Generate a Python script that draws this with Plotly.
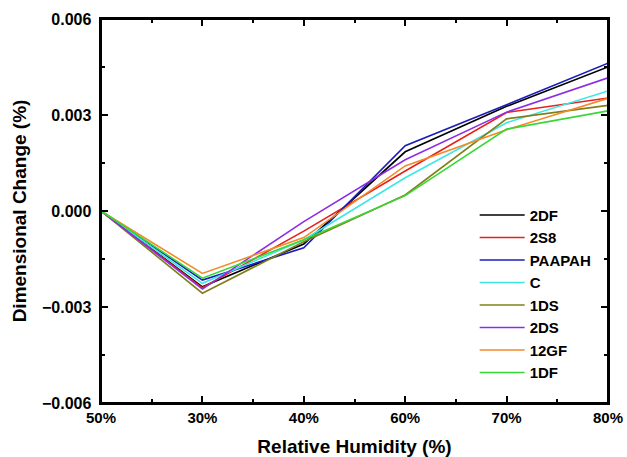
import plotly.graph_objs as go

#####################################################################
# DATA
#####################################################################
rh_labels = ['50%', '30%', '40%', '60%', '70%', '80%']

series_names = ['2DF', '2S8', 'PAAPAH', 'C', '1DS', '2DS', '12GF', '1DF']

val_2df = [0.0, -0.00237, -0.00103, 0.00185, 0.00327, 0.00450]
val_2s8 = [0.0, -0.00240, -0.00063, 0.00125, 0.00308, 0.00353]
val_paapah = [0.0, -0.00216, -0.00115, 0.00204, 0.00332, 0.00462]
val_c = [0.0, -0.00226, -0.00090, 0.00104, 0.00276, 0.00375]
val_1ds = [0.0, -0.00257, -0.00096, 0.00050, 0.00288, 0.00330]
val_2ds = [0.0, -0.00244, -0.00033, 0.00160, 0.00309, 0.00416]
val_12gf = [0.0, -0.00195, -0.00083, 0.00141, 0.00254, 0.00352]
val_1df = [0.0, -0.00210, -0.00090, 0.00048, 0.00256, 0.00313]

series_values = [val_2df, val_2s8, val_paapah, val_c, val_1ds, val_2ds, val_12gf, val_1df]

colors = ['#000000', '#e8201c', '#1c1cb8', '#3ee6e6',
          '#80801a', '#8c2ce6', '#f28a2a', '#36d836']

#####################################################################
# GRAPH
#####################################################################
FONT = 'Liberation Sans, Arial, sans-serif'
x_pos = list(range(len(rh_labels)))
y_range = [-0.006, 0.006]

data = []
for name, vals, col in zip(series_names, series_values, colors):
    data.append(go.Scatter(
        x=x_pos,
        y=vals,
        name=name,
        mode='lines',
        line=dict(color=col, width=1.6)))

axis_common = dict(
    showline=True,
    linecolor='black',
    linewidth=2,
    mirror='allticks',
    ticks='inside',
    ticklen=7,
    tickwidth=1.5,
    tickcolor='black',
    showgrid=False,
    zeroline=False)

y_minor = dict(dtick=0.0015, ticks='inside', ticklen=4,
               tickwidth=1.5, tickcolor='black')

fig = go.Figure(
    data=data,
    layout=go.Layout(
        width=627,
        height=457,
        plot_bgcolor='white',
        paper_bgcolor='white',
        margin=go.layout.Margin(l=101, r=19, t=19, b=54),
        xaxis=dict(
            axis_common,
            automargin=False,
            ticklabeloverflow='allow',
            range=[0, len(rh_labels) - 1],
            tickvals=x_pos,
            ticktext=rh_labels,
            tickfont=dict(family=FONT, size=15, color='black', weight='bold'),
            minor=dict(dtick=0.5, ticks='inside', ticklen=4,
                       tickwidth=1.5, tickcolor='black'),
            title=dict(text='Relative Humidity (%)', standoff=23,
                       font=dict(family=FONT, size=19, color='black', weight='bold'))),
        yaxis=dict(
            axis_common,
            range=y_range,
            dtick=0.003,
            tick0=0,
            tickformat='.3f',
            ticksuffix=' ',
            tickfont=dict(family=FONT, size=16, color='black', weight='bold'),
            minor=y_minor,
            title=dict(text='Dimensional Change (%)', standoff=10,
                       font=dict(family=FONT, size=19, color='black', weight='bold'))),
        # right-hand axis, only for the frame ticks
        yaxis2=dict(
            overlaying='y',
            side='right',
            range=y_range,
            dtick=0.003,
            tick0=0,
            showticklabels=False,
            showline=True,
            linecolor='black',
            linewidth=2,
            ticks='inside',
            ticklen=7,
            tickwidth=1.5,
            tickcolor='black',
            minor=y_minor,
            showgrid=False,
            zeroline=False,
            automargin=False),
        shapes=[dict(type='rect', xref='paper', yref='paper',
                     x0=0, y0=0, x1=1, y1=1, layer='above',
                     line=dict(color='black', width=2))],
        legend=dict(
            x=0.737, y=0.532,
            xanchor='left', yanchor='top',
            itemwidth=45,
            bgcolor='rgba(0,0,0,0)',
            font=dict(family=FONT, size=15, color='black', weight='bold')),
        showlegend=True))

# drop the default page margin so the figure fills the window exactly
fig.write_html("out.html",
               config=dict(displayModeBar=False),
               post_script="document.body.style.margin='0';"
                           "document.body.style.overflow='hidden';")
